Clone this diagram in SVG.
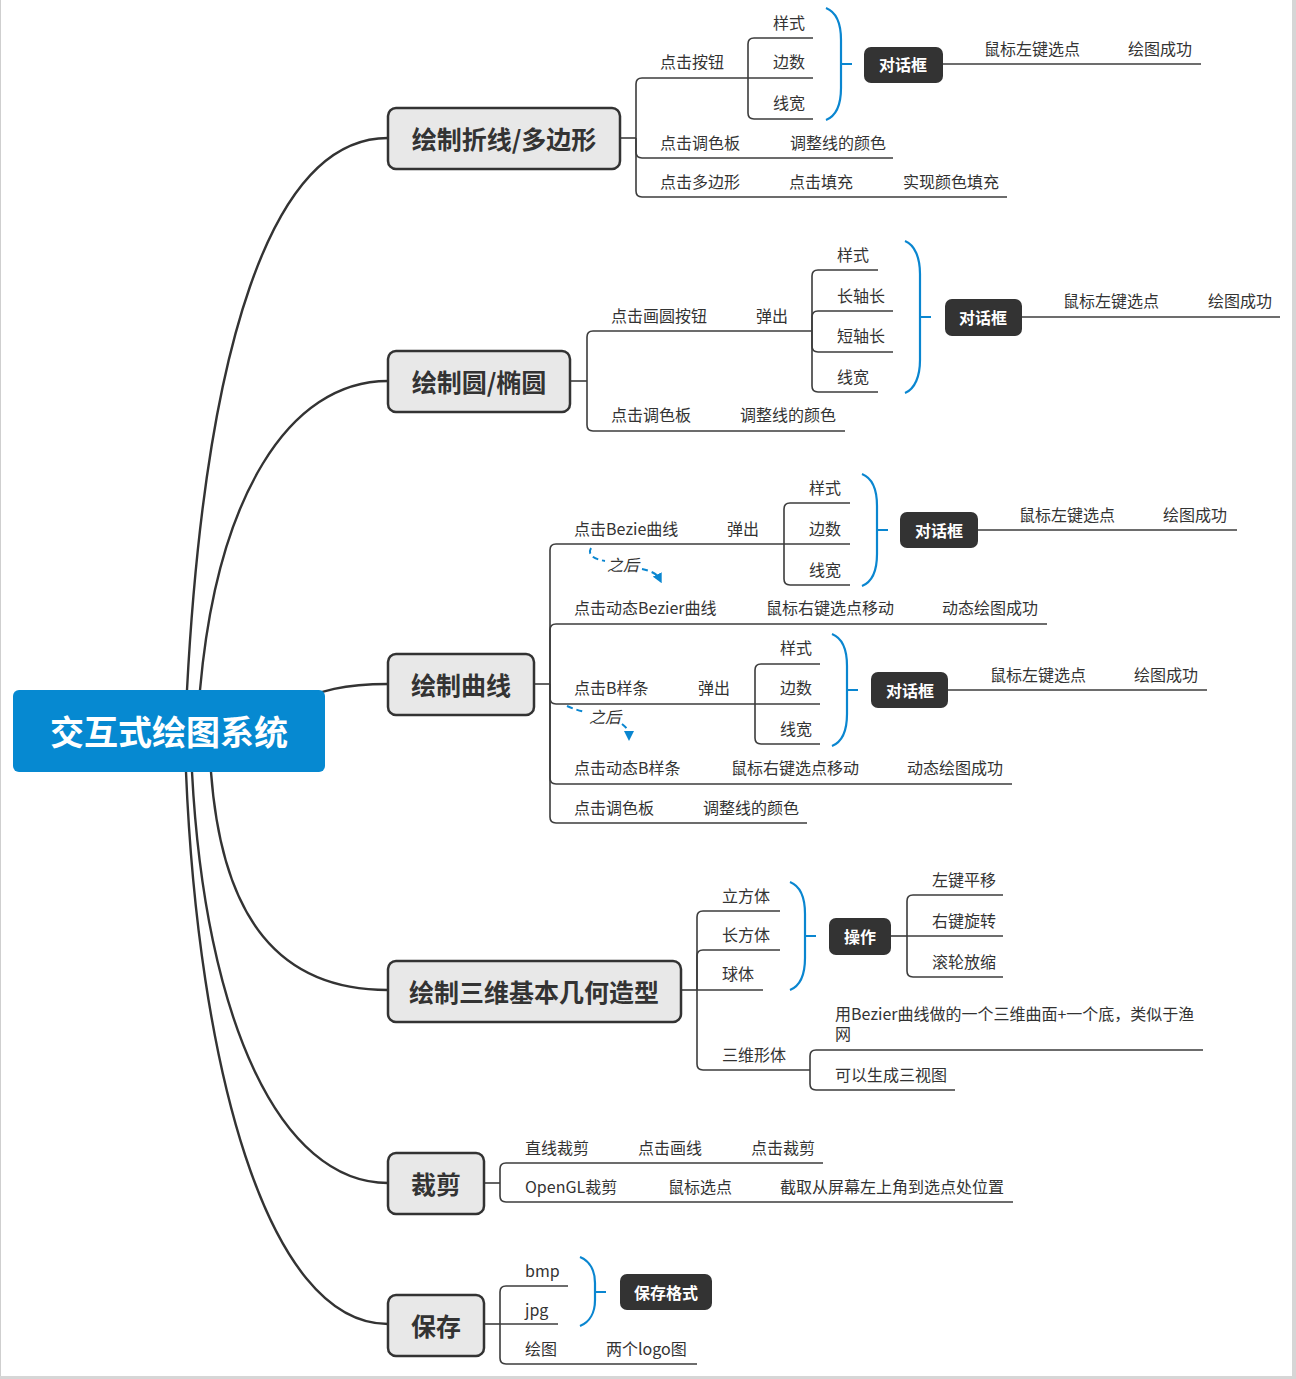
<svg xmlns="http://www.w3.org/2000/svg" width="1296" height="1379" viewBox="0 0 1296 1379">
  <style>
    text { font-family: "Noto Sans CJK SC", "Noto Sans", sans-serif; }
    .t { font-size: 16px; fill: #333; dominant-baseline: central; }
    .it { font-size: 16px; fill: #333; dominant-baseline: central; font-style: italic; }
    .topic rect { fill: #e8e8e8; stroke: #333; stroke-width: 2.5; }
    .topic text { font-size: 25px; font-weight: bold; fill: #333; text-anchor: middle; dominant-baseline: central; }
    .dark rect { fill: #333; }
    .dark text { font-size: 16px; font-weight: bold; fill: #fff; text-anchor: middle; dominant-baseline: central; }
    .main { fill: none; stroke: #333; stroke-width: 2.4; }
    .ln { fill: none; stroke: #3c3c3c; stroke-width: 1.6; }
    .br { fill: none; stroke: #0a86d0; stroke-width: 2.2; }
    .dash { fill: none; stroke: #0a86d0; stroke-width: 2; stroke-dasharray: 6 4; }
  </style>
  <defs>
    <marker id="arr" viewBox="0 0 10 10" refX="4" refY="5" markerWidth="5" markerHeight="5" orient="auto">
      <path d="M0,0 L10,5 L0,10 z" fill="#0a86d0"/>
    </marker>
  </defs>

  <rect x="0" y="0" width="1296" height="1379" fill="#fff"/>
  <!-- page frame -->
  <line x1="0.5" y1="0" x2="0.5" y2="1379" stroke="#cfcfcf" stroke-width="1"/>
  <rect x="1292" y="0" width="4" height="1379" fill="#d6d6d6"/>
  <rect x="0" y="1376" width="1296" height="3" fill="#d6d6d6"/>

  <g id="connectors">
    <!-- root to topics -->
    <path class="main" d="M187,690 C205,350 270,138 388,138"/>
    <path class="main" d="M200,690 C217,498 288,381 388,381"/>
    <path class="main" d="M290,705 C320,690 345,684 388,684"/>
    <path class="main" d="M211,772 C222,920 280,990 388,990"/>
    <path class="main" d="M192,772 C205,1020 280,1183 388,1183"/>
    <path class="main" d="M186,772 C198,1060 265,1324 388,1324"/>

    <!-- 绘制折线/多边形 -->
    <path class="ln" d="M620,138 H636"/>
    <path class="ln" d="M636,138 V84 Q636,78 642,78 H748"/>
    <path class="ln" d="M636,138 V152 Q636,158 642,158 H893"/>
    <path class="ln" d="M636,138 V191 Q636,197 642,197 H1007"/>
    <path class="ln" d="M748,78 V44 Q748,38 754,38 H813"/>
    <path class="ln" d="M748,78 H813"/>
    <path class="ln" d="M748,78 V113 Q748,119 754,119 H813"/>
    <path class="br" d="M826,8 C836,12 841,24 841,40 V88 C841,104 836,116 826,120 M841,64 H852"/>
    <path class="ln" d="M943,64 H1201"/>

    <!-- 绘制圆/椭圆 -->
    <path class="ln" d="M570,381 H587"/>
    <path class="ln" d="M587,381 V337 Q587,331 593,331 H812"/>
    <path class="ln" d="M587,381 V425 Q587,431 593,431 H845"/>
    <path class="ln" d="M812,331 V276 Q812,270 818,270 H878"/>
    <path class="ln" d="M812,331 V317 Q812,311 818,311 H893"/>
    <path class="ln" d="M812,331 V346 Q812,352 818,352 H893"/>
    <path class="ln" d="M812,331 V386 Q812,392 818,392 H878"/>
    <path class="br" d="M905,241 C915,245 920,258 920,274 V360 C920,376 915,389 905,393 M920,317 H931"/>
    <path class="ln" d="M1022,317 H1280"/>

    <!-- 绘制曲线 -->
    <path class="ln" d="M534,684 H550"/>
    <path class="ln" d="M550,684 V550 Q550,544 556,544 H784"/>
    <path class="ln" d="M550,684 V630 Q550,624 556,624 H1047"/>
    <path class="ln" d="M550,684 V698 Q550,704 556,704 H755"/>
    <path class="ln" d="M550,684 V778 Q550,784 556,784 H1012"/>
    <path class="ln" d="M550,684 V817 Q550,823 556,823 H807"/>
    <path class="ln" d="M784,544 V509 Q784,503 790,503 H850"/>
    <path class="ln" d="M784,544 H850"/>
    <path class="ln" d="M784,544 V579 Q784,585 790,585 H850"/>
    <path class="br" d="M862,474 C872,478 877,490 877,506 V554 C877,570 872,582 862,586 M877,530 H888"/>
    <path class="ln" d="M978,530 H1237"/>
    <path class="ln" d="M755,704 V670 Q755,664 761,664 H820"/>
    <path class="ln" d="M755,704 H820"/>
    <path class="ln" d="M755,704 V738 Q755,744 761,744 H820"/>
    <path class="br" d="M832,634 C842,638 847,650 847,666 V714 C847,730 842,742 832,746 M847,690 H858"/>
    <path class="ln" d="M948,690 H1207"/>
    <path class="dash" d="M591,548 C587,555 594,559 605,561"/>
    <path class="dash" d="M642,569 C651,571 657,574 659,578" marker-end="url(#arr)"/>
    <path class="dash" d="M567,706 C574,709 580,711 586,712"/>
    <path class="dash" d="M622,724 C627,728 629,731 629,735" marker-end="url(#arr)"/>

    <!-- 绘制三维基本几何造型 -->
    <path class="ln" d="M681,990 H697"/>
    <path class="ln" d="M697,990 V917 Q697,911 703,911 H780"/>
    <path class="ln" d="M697,990 V956 Q697,950 703,950 H780"/>
    <path class="ln" d="M697,990 H763"/>
    <path class="ln" d="M697,990 V1064 Q697,1070 703,1070 H810"/>
    <path class="ln" d="M810,1070 V1056 Q810,1050 816,1050 H1203"/>
    <path class="ln" d="M810,1070 V1084 Q810,1090 816,1090 H955"/>
    <path class="br" d="M790,882 C800,886 805,898 805,914 V958 C805,974 800,986 790,990 M805,936 H816"/>
    <path class="ln" d="M891,936 H907"/>
    <path class="ln" d="M907,936 V901 Q907,895 913,895 H1003"/>
    <path class="ln" d="M907,936 H1003"/>
    <path class="ln" d="M907,936 V971 Q907,977 913,977 H1003"/>

    <!-- 裁剪 -->
    <path class="ln" d="M484,1183 H500"/>
    <path class="ln" d="M500,1183 V1169 Q500,1163 506,1163 H823"/>
    <path class="ln" d="M500,1183 V1196 Q500,1202 506,1202 H1013"/>

    <!-- 保存 -->
    <path class="ln" d="M484,1324 H500"/>
    <path class="ln" d="M500,1324 V1292 Q500,1286 506,1286 H568"/>
    <path class="ln" d="M500,1324 H558"/>
    <path class="ln" d="M500,1324 V1358 Q500,1364 506,1364 H697"/>
    <path class="br" d="M580,1257 C590,1261 595,1271 595,1283 V1300 C595,1312 590,1322 580,1326 M595,1292 H606"/>
  </g>

  <!-- root -->
  <g id="root">
    <rect x="13" y="690" width="312" height="82" rx="6" fill="#0689d1"/>
    <text x="169" y="730" font-size="34" font-weight="bold" fill="#fff" text-anchor="middle" dominant-baseline="central">交互式绘图系统</text>
  </g>

  <!-- topics -->
  <g id="topic-polyline" class="topic">
    <rect x="388" y="108" width="232" height="61" rx="8"/>
    <text x="504" y="138">绘制折线/多边形</text>
  </g>
  <g id="topic-circle" class="topic">
    <rect x="388" y="351" width="182" height="61" rx="8"/>
    <text x="479" y="381">绘制圆/椭圆</text>
  </g>
  <g id="topic-curve" class="topic">
    <rect x="388" y="654" width="146" height="61" rx="8"/>
    <text x="461" y="684">绘制曲线</text>
  </g>
  <g id="topic-3d" class="topic">
    <rect x="388" y="961" width="293" height="61" rx="8"/>
    <text x="534" y="991">绘制三维基本几何造型</text>
  </g>
  <g id="topic-clip" class="topic">
    <rect x="388" y="1153" width="96" height="61" rx="8"/>
    <text x="436" y="1183">裁剪</text>
  </g>
  <g id="topic-save" class="topic">
    <rect x="388" y="1295" width="96" height="61" rx="8"/>
    <text x="436" y="1325">保存</text>
  </g>

  <!-- 绘制折线/多边形 branch -->
  <g id="polyline-button">
    <text class="t" x="660" y="61">点击按钮</text>
    <text class="t" x="773" y="22">样式</text>
    <text class="t" x="773" y="61">边数</text>
    <text class="t" x="773" y="102">线宽</text>
  </g>
  <g id="polyline-dialog" class="dark">
    <rect x="864" y="47" width="79" height="36" rx="7"/>
    <text x="903" y="64">对话框</text>
  </g>
  <g id="polyline-dialog-steps">
    <text class="t" x="984" y="48">鼠标左键选点</text>
    <text class="t" x="1128" y="48">绘图成功</text>
  </g>
  <g id="polyline-palette">
    <text class="t" x="660" y="142">点击调色板</text>
    <text class="t" x="790" y="142">调整线的颜色</text>
  </g>
  <g id="polyline-fill">
    <text class="t" x="660" y="181">点击多边形</text>
    <text class="t" x="789" y="181">点击填充</text>
    <text class="t" x="903" y="181">实现颜色填充</text>
  </g>

  <!-- 绘制圆/椭圆 branch -->
  <g id="circle-button">
    <text class="t" x="611" y="315">点击画圆按钮</text>
    <text class="t" x="756" y="315">弹出</text>
    <text class="t" x="837" y="254">样式</text>
    <text class="t" x="837" y="295">长轴长</text>
    <text class="t" x="837" y="335">短轴长</text>
    <text class="t" x="837" y="376">线宽</text>
  </g>
  <g id="circle-dialog" class="dark">
    <rect x="945" y="299" width="77" height="37" rx="7"/>
    <text x="983" y="317">对话框</text>
  </g>
  <g id="circle-dialog-steps">
    <text class="t" x="1063" y="300">鼠标左键选点</text>
    <text class="t" x="1208" y="300">绘图成功</text>
  </g>
  <g id="circle-palette">
    <text class="t" x="611" y="414">点击调色板</text>
    <text class="t" x="740" y="414">调整线的颜色</text>
  </g>

  <!-- 绘制曲线 branch -->
  <g id="bezier">
    <text class="t" x="574" y="528">点击Bezie曲线</text>
    <text class="t" x="727" y="528">弹出</text>
    <text class="t" x="809" y="487">样式</text>
    <text class="t" x="809" y="528">边数</text>
    <text class="t" x="809" y="569">线宽</text>
  </g>
  <g id="bezier-dialog" class="dark">
    <rect x="900" y="512" width="78" height="36" rx="7"/>
    <text x="939" y="530">对话框</text>
  </g>
  <g id="bezier-dialog-steps">
    <text class="t" x="1019" y="514">鼠标左键选点</text>
    <text class="t" x="1163" y="514">绘图成功</text>
  </g>
  <g id="bezier-after">
    <text class="it" x="607" y="564">之后</text>
  </g>
  <g id="bezier-dynamic">
    <text class="t" x="574" y="607">点击动态Bezier曲线</text>
    <text class="t" x="766" y="607">鼠标右键选点移动</text>
    <text class="t" x="942" y="607">动态绘图成功</text>
  </g>
  <g id="bspline">
    <text class="t" x="574" y="687">点击B样条</text>
    <text class="t" x="698" y="687">弹出</text>
    <text class="t" x="780" y="647">样式</text>
    <text class="t" x="780" y="687">边数</text>
    <text class="t" x="780" y="728">线宽</text>
  </g>
  <g id="bspline-dialog" class="dark">
    <rect x="871" y="672" width="77" height="36" rx="7"/>
    <text x="910" y="690">对话框</text>
  </g>
  <g id="bspline-dialog-steps">
    <text class="t" x="990" y="674">鼠标左键选点</text>
    <text class="t" x="1134" y="674">绘图成功</text>
  </g>
  <g id="bspline-after">
    <text class="it" x="589" y="716">之后</text>
  </g>
  <g id="bspline-dynamic">
    <text class="t" x="574" y="767">点击动态B样条</text>
    <text class="t" x="731" y="767">鼠标右键选点移动</text>
    <text class="t" x="907" y="767">动态绘图成功</text>
  </g>
  <g id="curve-palette">
    <text class="t" x="574" y="807">点击调色板</text>
    <text class="t" x="703" y="807">调整线的颜色</text>
  </g>

  <!-- 绘制三维基本几何造型 branch -->
  <g id="solids">
    <text class="t" x="722" y="895">立方体</text>
    <text class="t" x="722" y="934">长方体</text>
    <text class="t" x="722" y="973">球体</text>
  </g>
  <g id="solids-op" class="dark">
    <rect x="829" y="918" width="62" height="37" rx="7"/>
    <text x="860" y="936">操作</text>
  </g>
  <g id="solids-op-items">
    <text class="t" x="932" y="879">左键平移</text>
    <text class="t" x="932" y="920">右键旋转</text>
    <text class="t" x="932" y="961">滚轮放缩</text>
  </g>
  <g id="surface">
    <text class="t" x="722" y="1054">三维形体</text>
    <text x="835" y="1020" font-size="16" fill="#333"><tspan x="835">用Bezier曲线做的一个三维曲面+一个底，类似于渔</tspan><tspan x="835" dy="20">网</tspan></text>
    <text class="t" x="835" y="1074">可以生成三视图</text>
  </g>

  <!-- 裁剪 branch -->
  <g id="clip-line">
    <text class="t" x="525" y="1147">直线裁剪</text>
    <text class="t" x="638" y="1147">点击画线</text>
    <text class="t" x="751" y="1147">点击裁剪</text>
  </g>
  <g id="clip-gl">
    <text class="t" x="525" y="1186">OpenGL裁剪</text>
    <text class="t" x="668" y="1186">鼠标选点</text>
    <text class="t" x="780" y="1186">截取从屏幕左上角到选点处位置</text>
  </g>

  <!-- 保存 branch -->
  <g id="save-formats">
    <text class="t" x="525" y="1270">bmp</text>
    <text class="t" x="525" y="1309">jpg</text>
  </g>
  <g id="save-format-node" class="dark">
    <rect x="620" y="1274" width="92" height="36" rx="7"/>
    <text x="666" y="1292">保存格式</text>
  </g>
  <g id="save-logo">
    <text class="t" x="525" y="1348">绘图</text>
    <text class="t" x="606" y="1348">两个logo图</text>
  </g>
</svg>
